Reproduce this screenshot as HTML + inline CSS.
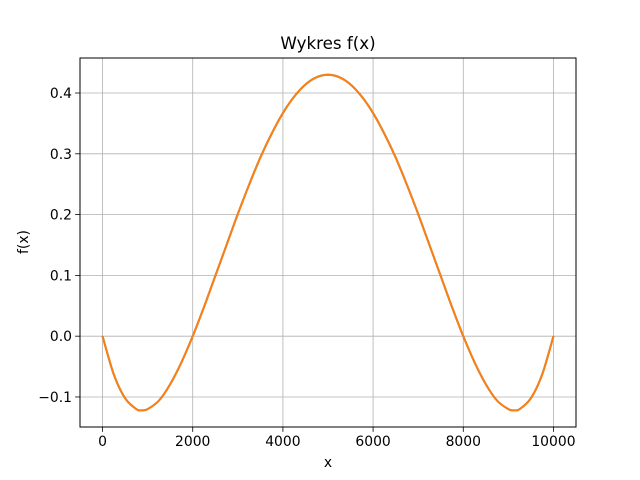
<!DOCTYPE html>
<html><head><meta charset="utf-8"><style>
html,body{margin:0;padding:0;background:#fff;}
svg{display:block;font-family:"DejaVu Sans","Liberation Sans",sans-serif;}
</style></head><body>
<svg id="chart" width="640" height="480" viewBox="0 0 640 480">
<rect width="640" height="480" fill="#fff"/>
<g id="grid"></g>
<g id="lines"></g>
<rect x="80" y="58" width="496" height="369" fill="none" stroke="#000" stroke-width="1"/>
<g id="ticks"></g>
<text x="328" y="49" text-anchor="middle" font-size="16.7">Wykres f(x)</text>
<text x="328" y="467" text-anchor="middle" font-size="13.9">x</text>
<text x="0" y="0" transform="translate(28,242) rotate(-90)" text-anchor="middle" font-size="13.9">f(x)</text>
</svg>
<script>
const xValues = [0,250,500,750,875,1000,1250,1500,1750,2000,2250,2500,2750,3000,3250,3500,3750,4000,4250,4500,4750,5000,5250,5500,5750,6000,6250,6500,6750,7000,7250,7500,7750,8000,8250,8500,8750,9000,9125,9250,9500,9750,10000];
const yValues = [0,-0.063,-0.102,-0.120,-0.122,-0.120,-0.106,-0.079,-0.043,0,0.048,0.099,0.150,0.201,0.249,0.294,0.333,0.367,0.394,0.414,0.426,0.430,0.426,0.414,0.394,0.367,0.333,0.294,0.249,0.201,0.150,0.099,0.048,0,-0.043,-0.079,-0.106,-0.120,-0.122,-0.120,-0.102,-0.063,0];
const xTicks = [0,2000,4000,6000,8000,10000];
const yTicks = [-0.1,0.0,0.1,0.2,0.3,0.4];
const yTickLabels = ["\u22120.1","0.0","0.1","0.2","0.3","0.4"];

const L=80,R=576,T=58,B=427;
const xMin=-500,xMax=10500,yMin=-0.1494,yMax=0.4576;
function sx(v){return L+(v-xMin)/(xMax-xMin)*(R-L);}
function sy(v){return B-(v-yMin)/(yMax-yMin)*(B-T);}
const NS="http://www.w3.org/2000/svg";
const grid=document.getElementById('grid'),ticks=document.getElementById('ticks'),lines=document.getElementById('lines');
function mk(tag,attrs){const e=document.createElementNS(NS,tag);for(const k in attrs)e.setAttribute(k,attrs[k]);return e;}
xTicks.forEach(t=>{
  const x=sx(t);
  const g=mk('line',{x1:x,x2:x,y1:T,y2:B,stroke:'#b0b0b0','stroke-width':0.8});
  
  
  grid.appendChild(g);
  const tk=mk('line',{x1:x,x2:x,y1:B,y2:B+4.9,stroke:'#000','stroke-width':0.8});
  
  
  ticks.appendChild(tk);
  const tx=mk('text',{x:x,y:B+19,'text-anchor':'middle','font-size':13.9});
  tx.textContent=String(t);
  
  
  ticks.appendChild(tx);
});
yTicks.forEach((t,i)=>{
  const y=sy(t);
  const g=mk('line',{x1:L,x2:R,y1:y,y2:y,stroke:'#b0b0b0','stroke-width':0.8});
  
  
  grid.appendChild(g);
  const tk=mk('line',{x1:L-4.9,x2:L,y1:y,y2:y,stroke:'#000','stroke-width':0.8});
  
  
  ticks.appendChild(tk);
  const tx=mk('text',{x:L-8,y:y+5,'text-anchor':'end','font-size':13.9});
  tx.textContent=yTickLabels[i];
  
  
  ticks.appendChild(tx);
});
const P=xValues.map((x,i)=>[sx(x),sy(yValues[i])]);
let d='M'+P[0][0].toFixed(2)+','+P[0][1].toFixed(2);
for(let i=0;i<P.length-1;i++){
  const p0=P[Math.max(i-1,0)],p1=P[i],p2=P[i+1],p3=P[Math.min(i+2,P.length-1)];
  const c1x=p1[0]+(p2[0]-p0[0])/6,c1y=p1[1]+(p2[1]-p0[1])/6;
  const c2x=p2[0]-(p3[0]-p1[0])/6,c2y=p2[1]-(p3[1]-p1[1])/6;
  d+=' C'+c1x.toFixed(2)+','+c1y.toFixed(2)+' '+c2x.toFixed(2)+','+c2y.toFixed(2)+' '+p2[0].toFixed(2)+','+p2[1].toFixed(2);
}
const l1=mk('path',{d:d,fill:'none',stroke:'#1f77b4','stroke-width':2,'stroke-linejoin':'round'});


lines.appendChild(l1);
const l2=mk('path',{d:d,fill:'none',stroke:'#ff7f0e','stroke-width':2,'stroke-linejoin':'round'});


lines.appendChild(l2);
</script>
</body></html>
